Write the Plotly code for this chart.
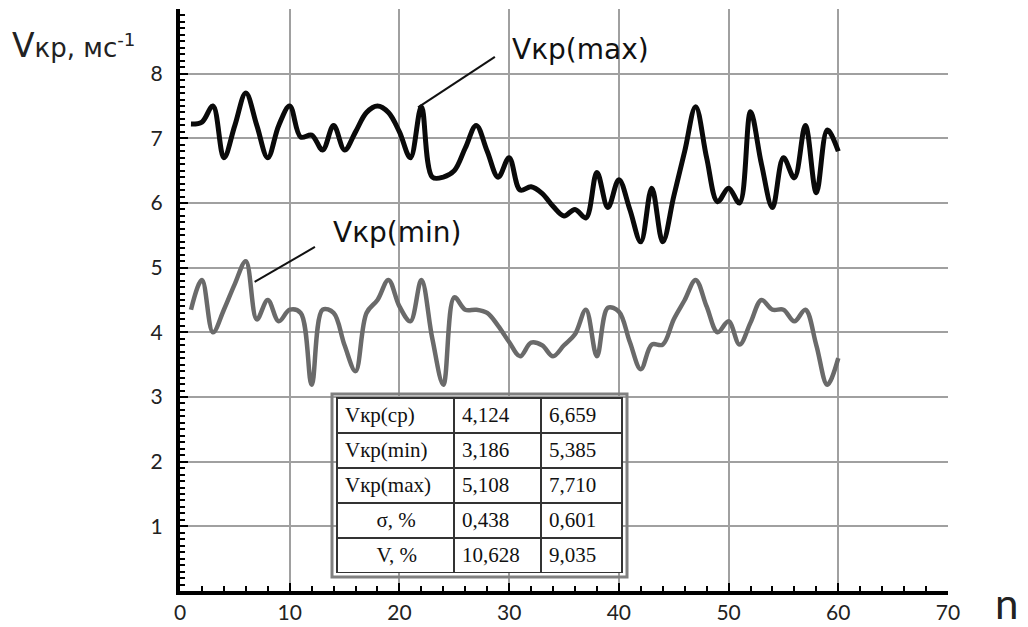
import plotly.graph_objects as go

n = list(range(1, 61))
v_max = [7.22, 7.25, 7.5, 6.7, 7.2, 7.7, 7.2, 6.7, 7.2, 7.5,
         7.02, 7.05, 6.82, 7.2, 6.82, 7.1, 7.4, 7.5, 7.4, 7.1,
         6.7, 7.49, 6.4, 6.4, 6.5, 6.85, 7.2, 6.8, 6.4, 6.7,
         6.2, 6.25, 6.15, 5.95, 5.8, 5.9, 5.77, 6.47, 5.93, 6.36,
         5.9, 5.4, 6.23, 5.4, 6.1, 6.8, 7.49, 6.7, 6.02, 6.23,
         6.0, 7.41, 6.6, 5.93, 6.7, 6.39, 7.2, 6.16, 7.13, 6.8]
v_min = [4.35, 4.81, 4.0, 4.35, 4.75, 5.1, 4.2, 4.5, 4.17, 4.35,
         4.3, 3.19, 4.35, 4.3, 3.8, 3.4, 4.3, 4.5, 4.81, 4.4,
         4.17, 4.81, 3.9, 3.19, 4.54, 4.35, 4.35, 4.3, 4.1, 3.85,
         3.63, 3.84, 3.8, 3.63, 3.8, 3.97, 4.35, 3.63, 4.38, 4.32,
         3.85, 3.43, 3.81, 3.81, 4.2, 4.5, 4.81, 4.4, 4.0, 4.17,
         3.81, 4.15, 4.5, 4.35, 4.35, 4.17, 4.35, 3.8, 3.19, 3.6]

x_ticks = [0, 10, 20, 30, 40, 50, 60, 70]
y_ticks = [1, 2, 3, 4, 5, 6, 7, 8, 9]
y_ticktext = ["1", "2", "3", "4", "5", "6", "7", "8", ""]

table_labels = ["Vкр(ср)", "Vкр(min)", "Vкр(max)", "σ, %", "V, %"]
table_min = ["4,124", "3,186", "5,108", "0,438", "10,628"]
table_max = ["6,659", "5,385", "7,710", "0,601", "9,035"]

W, H = 1028, 627
OFF = 8  # page body margin
L, R, T, B = 172, 88, 1, 44
PW, PH = W - L - R, H - T - B


def px_x(p):
    return (p - OFF - L) / PW


def px_y(p):
    return (H - B - (p - OFF)) / PH


fig = go.Figure()
fig.add_trace(go.Scatter(x=n, y=v_min, mode="lines",
                         line=dict(color="#6a6a6a", width=4.5, shape="spline", smoothing=1.0),
                         showlegend=False))
fig.add_trace(go.Scatter(x=n, y=v_max, mode="lines",
                         line=dict(color="#0a0a0a", width=5, shape="spline", smoothing=1.0),
                         showlegend=False))

tfont = dict(family="Liberation Serif, Times New Roman, serif", size=21, color="#111")
NB = "\u00a0"
label_cells = [lbl if i < 3 else NB * 6 + lbl for i, lbl in enumerate(table_labels)]
fig.add_trace(go.Table(
    domain=dict(x=[px_x(337), px_x(622)], y=[px_y(573), px_y(398)]),
    columnwidth=[117, 87, 81],
    header=dict(values=[label_cells[0], table_min[0], table_max[0]],
                height=35, align="left", font=tfont,
                fill=dict(color="white"), line=dict(color="#333", width=2)),
    cells=dict(values=[label_cells[1:], table_min[1:], table_max[1:]],
               height=35, align="left",
               font=tfont, fill=dict(color="white"), line=dict(color="#333", width=2)),
))

fig.add_shape(type="rect", xref="paper", yref="paper",
              x0=px_x(332), x1=px_x(627), y0=px_y(577), y1=px_y(394),
              line=dict(color="#808080", width=3), layer="above")

afont = dict(family="DejaVu Sans, sans-serif", size=28, color="#111")
fig.add_annotation(x=36.5, y=8.37, text="Vкр(max)", showarrow=False, font=afont)
fig.add_annotation(x=19.8, y=5.55, text="Vкр(min)", showarrow=False, font=afont)
fig.add_shape(type="line", x0=21.7, y0=7.48, x1=28.7, y1=8.26, line=dict(color="#111", width=2))
fig.add_shape(type="line", x0=6.8, y0=4.78, x1=12.3, y1=5.32, line=dict(color="#111", width=2))

fig.add_annotation(xref="paper", yref="paper", x=px_x(10), y=px_y(45), xanchor="left",
                   yanchor="middle", showarrow=False,
                   text="<span style='font-size:33px'>V</span>кр, мс<sup>-1</sup>",
                   font=dict(family="DejaVu Sans, sans-serif", size=26, color="#222"))
fig.add_annotation(xref="paper", yref="paper", x=px_x(1006), y=px_y(603), xanchor="center",
                   yanchor="middle", showarrow=False, text="n",
                   font=dict(family="Lato, Open Sans, sans-serif", size=42, color="#222"))

tickfont = dict(family="Lato, Open Sans, sans-serif", size=21, color="#222")
fig.update_xaxes(range=[0, 70], tickvals=x_ticks, ticktext=[str(t) for t in x_ticks],
                 showgrid=True, gridcolor="#a0a0a0", gridwidth=2,
                 showline=True, linecolor="#000", linewidth=4, zeroline=False,
                 ticks="inside", ticklen=8, tickwidth=2, tickcolor="#000",
                 minor=dict(dtick=2, ticks="inside", ticklen=5, tickwidth=2, tickcolor="#000", showgrid=False),
                 tickfont=tickfont)
fig.update_yaxes(range=[0, 9], tickvals=y_ticks, ticktext=y_ticktext,
                 showgrid=True, gridcolor="#a0a0a0", gridwidth=2,
                 showline=True, linecolor="#000", linewidth=4, zeroline=False,
                 ticks="inside", ticklen=8, tickwidth=2, tickcolor="#000",
                 minor=dict(dtick=0.1, ticks="inside", ticklen=5, tickwidth=2, tickcolor="#000", showgrid=False),
                 tickfont=tickfont, ticklabelstandoff=9)

fig.update_layout(width=W, height=H, margin=dict(l=L, r=R, t=T, b=B),
                  plot_bgcolor="white", paper_bgcolor="white")

fig.write_html("out.html")
